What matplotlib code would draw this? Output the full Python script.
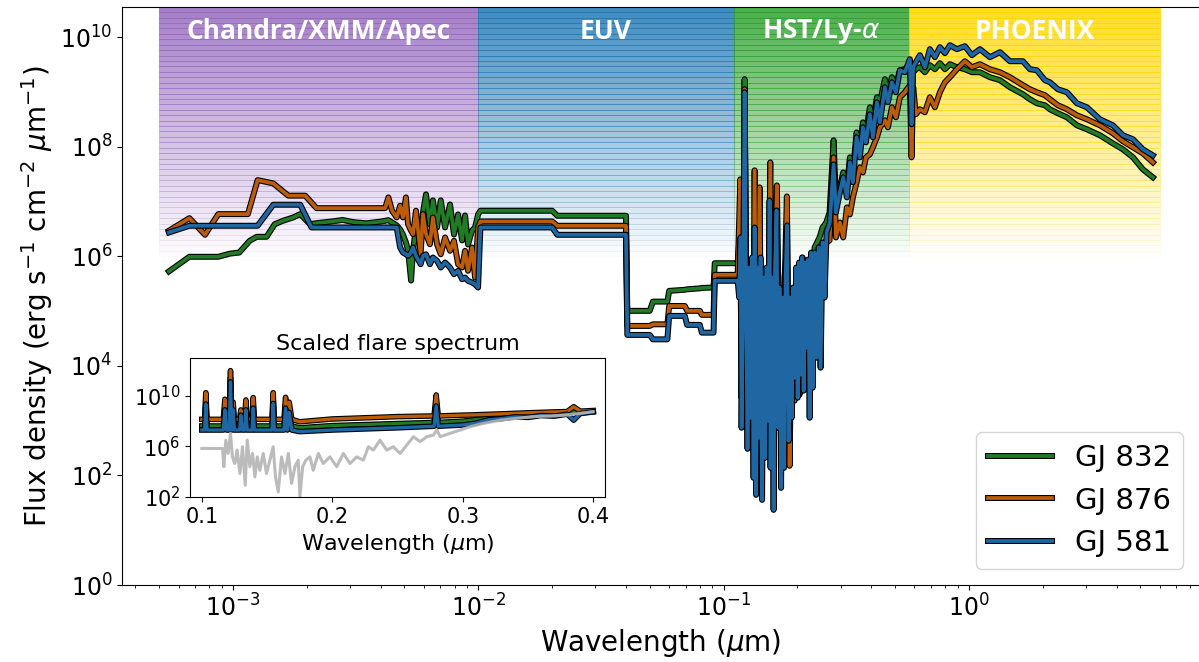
import matplotlib
matplotlib.use('Agg')
import matplotlib.pyplot as plt
import matplotlib.patheffects as pe
from matplotlib.ticker import NullLocator
import numpy as np

# --- spectra of the three stars (wavelength in micron, flux in erg/s/cm2/um) ---

# X-ray part, each star has its own sampling
xray_wl_832 = [5.48e-4, 6.64e-4, 8.71e-4, 9.72e-4, 1.06e-3, 1.17e-3, 1.25e-3, 1.37e-3, 1.48e-3, 1.60e-3,
               1.76e-3, 1.88e-3, 2.06e-3, 2.19e-3, 2.5e-3, 2.8e-3, 3.1e-3, 3.5e-3, 4.0e-3, 4.30e-3]
xray_f_832 = [5.3e5, 9.8e5, 9.8e5, 1.12e6, 1.17e6, 1.92e6, 2.27e6, 2.27e6, 3.86e6, 4.46e6,
              5.12e6, 5.89e6, 3.86e6, 4.03e6, 4.3e6, 4.6e6, 4.2e6, 4.0e6, 4.3e6, 4.57e6]
xray_wl_876 = [5.48e-4, 6.64e-4, 7.69e-4, 8.71e-4, 1.15e-3, 1.26e-3, 1.46e-3, 1.68e-3, 1.97e-3, 2.19e-3,
               4.17e-3, 4.30e-3]
xray_f_876 = [2.93e6, 4.97e6, 2.47e6, 5.89e6, 5.89e6, 2.46e7, 2.14e7, 1.28e7, 1.28e7, 7.57e6,
              7.57e6, 1.19e7]
xray_wl_581 = [5.48e-4, 6.64e-4, 1.26e-3, 1.46e-3, 1.88e-3, 2.09e-3, 4.30e-3]
xray_f_581 = [2.72e6, 3.61e6, 3.61e6, 8.74e6, 8.74e6, 3.36e6, 3.36e6]

# soft X-ray / XUV (XMM) part
xuv_wl = [4.45e-3, 4.65e-3, 4.80e-3, 4.93e-3, 5.07e-3, 5.17e-3, 5.32e-3, 5.42e-3, 5.57e-3, 5.82e-3,
          5.95e-3, 6.12e-3, 6.35e-3, 6.53e-3, 6.79e-3, 7.03e-3, 7.32e-3, 7.67e-3, 7.96e-3, 8.27e-3,
          8.59e-3, 8.83e-3, 9.08e-3, 9.43e-3, 9.70e-3, 9.98e-3]
xuv_f_832 = [4.15e6, 3.66e6, 3.09e6, 2.50e6, 1.79e6, 1.28e6, 3.61e5, 1.28e6, 3.36e6, 2.50e6,
             6.32e6, 1.35e7, 3.81e6, 1.05e7, 3.36e6, 1.05e7, 3.36e6, 8.85e6, 2.50e6, 5.81e6,
             1.95e6, 5.57e6, 1.64e6, 2.96e6, 3.36e6, 5.81e6]
xuv_f_876 = [6.79e6, 5.12e6, 8.38e6, 5.12e6, 1.19e7, 3.86e6, 2.93e6, 2.54e6, 6.79e6, 1.09e6,
             5.89e6, 2.54e6, 1.66e6, 5.12e6, 1.66e6, 1.09e6, 2.21e6, 1.26e6, 1.92e6, 7.17e5,
             6.24e5, 1.26e6, 5.43e5, 1.45e6, 4.10e5, 3.36e6]
xuv_f_581 = [3.36e6, 3.36e6, 1.45e6, 1.17e6, 1.09e6, 1.02e6, 1.17e6, 1.45e6, 1.02e6, 7.17e5,
             1.02e6, 1.09e6, 7.17e5, 9.51e5, 8.28e5, 6.24e5, 7.71e5, 6.24e5, 4.71e5, 5.43e5,
             3.81e5, 4.10e5, 3.57e5, 3.32e5, 3.09e5, 2.69e5]

# EUV estimate, binned
euv_wl = [1.02e-2, 2.0e-2, 2.1e-2, 4.0e-2, 4.05e-2, 5.0e-2, 5.15e-2, 5.9e-2, 6.0e-2, 6.95e-2,
          7.1e-2, 8.0e-2, 8.15e-2, 9.1e-2, 9.2e-2, 0.113]
euv_f_832 = [6.79e6, 6.79e6, 5.50e6, 5.50e6, 1.01e5, 1.01e5, 1.49e5, 1.49e5, 2.34e5, 2.45e5,
             2.5e5, 2.6e5, 2.65e5, 2.69e5, 7.48e5, 7.48e5]
euv_f_876 = [4.33e6, 4.33e6, 3.61e6, 3.61e6, 5.36e4, 5.36e4, 5.74e4, 5.74e4, 1.24e5, 1.24e5,
             1.01e5, 1.01e5, 8.53e4, 8.53e4, 4.59e5, 4.59e5]
euv_f_581 = [3.36e6, 3.36e6, 2.47e6, 2.47e6, 3.67e4, 3.67e4, 3.05e4, 3.05e4, 8.17e4, 8.17e4,
             5.60e4, 5.60e4, 4.04e4, 4.04e4, 3.57e5, 3.57e5]

# HST far-UV, emission lines incl. Ly-alpha
fuv_wl = [0.1141, 0.1170, 0.1184, 0.1206, 0.1218, 0.1235, 0.1252, 0.1297, 0.1313, 0.1338,
          0.1363, 0.1402, 0.1429, 0.1446, 0.1469, 0.1516, 0.1550, 0.1589, 0.1614, 0.1649,
          0.1692, 0.1735, 0.1773, 0.1811, 0.1858, 0.1893, 0.1947, 0.1984, 0.2040, 0.2099,
          0.2139, 0.2200, 0.2278, 0.2349, 0.2461, 0.2532, 0.2622, 0.2704]
fuv_f_832 = [7.38e5, 3.36e6, 2.62e3, 4.10e5, 1.71e9, 4.10e5, 1.13e3, 6.24e5, 7.41e2, 2.21e6,
             4.87e2, 9.51e5, 7.41e2, 3.20e2, 2.69e5, 2.62e3, 3.36e6, 2.10e2, 4.10e5, 3.36e6,
             6.08e3, 4.87e2, 4.10e5, 1.45e6, 3.94e2, 1.16e5, 6.08e3, 2.69e5, 2.98e3, 9.51e5,
             1.41e4, 6.24e5, 7.61e4, 1.45e6, 2.21e6, 3.36e6, 4.15e6, 6.32e6]
fuv_f_876 = [4.65e5, 2.54e7, 2.62e3, 2.69e5, 1.12e9, 2.69e5, 1.13e3, 6.24e5, 7.41e2, 3.71e7,
             4.87e2, 1.81e7, 7.41e2, 3.20e2, 1.77e5, 2.62e3, 5.18e7, 2.10e2, 2.69e5, 1.97e7,
             6.08e3, 4.87e2, 2.69e5, 1.24e7, 1.50e2, 7.61e4, 2.31e3, 2.69e5, 4.53e3, 7.71e5,
             9.27e3, 4.10e5, 4.99e4, 6.24e5, 9.51e5, 1.45e6, 1.79e6, 1.95e6]
# GJ 581 has the finer far-UV sampling
fuv_wl_581 = [0.1141, 0.1157, 0.1173, 0.1184, 0.1201, 0.1218, 0.1235, 0.1252, 0.1271, 0.1288,
              0.1307, 0.1325, 0.1338, 0.1357, 0.1376, 0.1395, 0.1415, 0.1435, 0.1456, 0.1476,
              0.1497, 0.1518, 0.1540, 0.1554, 0.1576, 0.1599, 0.1621, 0.1644, 0.1668, 0.1691,
              0.1715, 0.1740, 0.1764, 0.1790, 0.1815, 0.1841, 0.1867, 0.1894, 0.1921, 0.1948,
              0.1976, 0.2004, 0.2032, 0.2061, 0.2090, 0.2120, 0.2150, 0.2181, 0.2212, 0.2243,
              0.2275, 0.2307, 0.2350, 0.2395, 0.2440, 0.2486, 0.2533, 0.2580, 0.2629, 0.2711]
fuv_f_581 = [3.61e5, 1.77e5, 2.21e6, 7.41e2, 2.69e5, 9.88e8, 1.77e5, 3.06e2, 6.24e5, 1.13e3,
             9.51e5, 9.04e1, 3.36e6, 4.42e1, 6.24e5, 4.87e2, 9.51e5, 3.58e1, 4.10e5, 2.10e2,
             6.24e5, 9.96e2, 1.05e7, 1.38e2, 4.10e5, 2.35e1, 6.24e5, 6.88e6, 7.41e2, 2.69e5,
             5.93e1, 1.77e5, 1.38e2, 4.10e5, 3.66e6, 4.29e2, 1.77e5, 1.13e3, 2.69e5, 6.08e3,
             6.24e5, 2.62e3, 7.71e5, 6.90e3, 9.51e5, 3.52e3, 7.71e5, 2.15e4, 8.74e5, 1.13e3,
             1.17e6, 3.99e3, 1.17e6, 1.41e4, 1.45e6, 9.27e3, 1.79e6, 1.77e5, 2.72e6, 4.15e6]

# near-UV to infrared (HST + PHOENIX)
opt_wl = [0.2808, 0.2870, 0.2979, 0.3073, 0.3182, 0.3272, 0.3366, 0.3484, 0.3594, 0.3697,
          0.3803, 0.3948, 0.4061, 0.4217, 0.4337, 0.4546, 0.4675, 0.4854, 0.5040, 0.5233,
          0.5483, 0.5746, 0.5838, 0.5927, 0.6078, 0.6313, 0.6615, 0.6934, 0.7268, 0.7618,
          0.7985, 0.8367, 0.8935, 0.9632, 1.0285, 1.109, 1.218, 1.338, 1.469, 1.660,
          1.773, 1.893, 2.041, 2.139, 2.306, 2.509, 2.756, 3.027, 3.420, 3.864,
          4.245, 4.664, 5.121, 5.625]
opt_f_832 = [1.31e8, 9.63e6, 1.81e7, 3.40e7, 1.81e7, 6.40e7, 3.40e7, 1.83e8, 9.75e7, 2.79e8,
             1.83e8, 5.25e8, 2.79e8, 8.00e8, 6.48e8, 1.71e9, 9.88e8, 1.86e9, 1.33e9, 2.49e9,
             2.60e9, 3.08e9, 8.00e8, 2.29e9, 2.60e9, 2.83e9, 2.29e9, 3.08e9, 2.60e9, 3.35e9,
             2.60e9, 3.21e9, 2.83e9, 2.60e9, 2.29e9, 2.29e9, 1.86e9, 1.64e9, 1.22e9, 9.08e8,
             7.36e8, 6.21e8, 5.71e8, 4.83e8, 4.08e8, 3.45e8, 2.46e8, 2.08e8, 1.62e8, 1.15e8,
             8.96e7, 6.40e7, 3.86e7, 2.76e7]
opt_f_876 = [6.40e7, 2.21e6, 4.15e6, 2.21e6, 7.80e6, 5.81e6, 1.19e7, 2.24e7, 4.20e7, 3.40e7,
             6.40e7, 7.26e7, 9.75e7, 1.49e8, 2.26e8, 3.04e8, 2.26e8, 5.25e8, 3.45e8, 8.00e8,
             9.88e8, 1.33e9, 6.40e7, 1.22e9, 3.91e8, 4.83e8, 4.26e8, 8.00e8, 5.25e8, 9.88e8,
             1.50e9, 1.86e9, 2.60e9, 3.64e9, 2.83e9, 3.21e9, 2.60e9, 2.29e9, 1.86e9, 1.33e9,
             1.12e9, 9.88e8, 8.71e8, 7.36e8, 5.71e8, 4.83e8, 3.75e8, 3.17e8, 2.46e8, 1.76e8,
             1.26e8, 9.75e7, 7.57e7, 5.18e7]
opt_f_581 = [4.77e7, 6.32e6, 1.47e7, 2.76e7, 1.19e7, 5.18e7, 2.24e7, 1.49e8, 6.40e7, 2.26e8,
             1.20e8, 3.91e8, 1.49e8, 6.48e8, 2.79e8, 1.22e9, 6.48e8, 1.50e9, 9.88e8, 2.49e9,
             2.29e9, 3.96e9, 2.57e8, 2.83e9, 3.49e9, 4.69e9, 2.83e9, 6.04e9, 4.31e9, 6.57e9,
             5.10e9, 7.14e9, 6.04e9, 6.84e9, 4.69e9, 6.04e9, 4.31e9, 5.32e9, 3.64e9, 3.64e9,
             2.60e9, 2.49e9, 1.64e9, 1.50e9, 1.12e9, 9.88e8, 6.21e8, 5.25e8, 3.17e8, 2.46e8,
             1.62e8, 1.37e8, 8.96e7, 6.96e7]

# scaled flare spectra for the inset
flare_wl = [0.1000, 0.1022, 0.1031, 0.1040, 0.1165, 0.1177, 0.1190, 0.1210, 0.1220, 0.1230,
            0.1240, 0.1250, 0.1290, 0.1299, 0.1310, 0.1328, 0.1338, 0.1348, 0.1385, 0.1394,
            0.1403, 0.1538, 0.1547, 0.1556, 0.1630, 0.1642, 0.1656, 0.1670, 0.1690, 0.1750,
            0.2000, 0.2500, 0.2780, 0.2796, 0.2812, 0.3000, 0.3100, 0.3200, 0.3300, 0.3400,
            0.3500, 0.3600, 0.3700, 0.3800, 0.3850, 0.3900, 0.4000]
flare_f_832 = [4.2e7, 4.2e7, 6.0e9, 4.2e7, 4.2e7, 2.0e9, 4.2e7, 4.2e7, 3.0e11, 4.2e7,
               1.0e9, 4.2e7, 4.2e7, 2.5e8, 4.2e7, 4.2e7, 1.5e9, 4.2e7, 4.2e7, 2.5e9,
               4.2e7, 4.2e7, 6.0e9, 4.2e7, 4.2e7, 2.5e9, 4.2e7, 1.0e9, 4.2e7, 3.0e7,
               4.5e7, 6.5e7, 8.0e7, 4.0e9, 8.0e7, 1.0e8, 1.3e8, 1.8e8, 2.3e8, 2.6e8,
               2.9e8, 3.2e8, 3.6e8, 4.0e8, 6.0e8, 4.5e8, 5.5e8]
flare_f_876 = [1.4e8, 1.4e8, 1.8e10, 1.4e8, 1.4e8, 5.5e9, 1.4e8, 1.4e8, 1.0e12, 1.4e8,
               3.2e9, 1.4e8, 1.4e8, 7.8e8, 1.4e8, 1.4e8, 4.8e9, 1.4e8, 1.4e8, 7.4e9,
               1.4e8, 1.4e8, 1.8e10, 1.4e8, 1.4e8, 7.8e9, 1.4e8, 3.2e9, 1.4e8, 9.0e7,
               1.5e8, 2.3e8, 2.6e8, 1.2e10, 2.6e8, 3.0e8, 3.2e8, 3.5e8, 3.8e8, 4.2e8,
               4.6e8, 5.0e8, 5.4e8, 5.8e8, 1.4e9, 6.2e8, 7.0e8]
flare_f_581 = [2.0e7, 2.0e7, 2.3e9, 2.0e7, 2.0e7, 8.0e8, 2.0e7, 2.0e7, 1.3e11, 2.0e7,
               8.0e8, 2.0e7, 2.0e7, 3.0e8, 2.0e7, 2.0e7, 8.0e8, 2.0e7, 2.0e7, 1.1e9,
               2.0e7, 2.0e7, 2.5e9, 2.0e7, 2.0e7, 1.1e9, 2.0e7, 5.0e8, 2.0e7, 1.5e7,
               2.0e7, 3.0e7, 4.0e7, 1.6e9, 4.0e7, 5.0e7, 7.0e7, 1.3e8, 1.6e8, 2.2e8,
               2.0e8, 2.8e8, 2.5e8, 3.6e8, 1.2e8, 4.0e8, 5.5e8]

# flare template (grey)
template_wl = [0.1000, 0.1159, 0.1169, 0.1184, 0.1202, 0.1220, 0.1235, 0.1253, 0.1271, 0.1292,
               0.1312, 0.1333, 0.1348, 0.1368, 0.1389, 0.1407, 0.1425, 0.1445, 0.1471, 0.1496,
               0.1522, 0.1547, 0.1565, 0.1586, 0.1611, 0.1637, 0.1663, 0.1688, 0.1714, 0.1739,
               0.1752, 0.1773, 0.1798, 0.1829, 0.1854, 0.1893, 0.1931, 0.1982, 0.2034, 0.2085,
               0.2136, 0.2187, 0.2238, 0.2277, 0.2315, 0.2366, 0.2417, 0.2468, 0.2520, 0.2571,
               0.2622, 0.2673, 0.2724, 0.2775, 0.2801, 0.2827, 0.2903, 0.2980, 0.3057, 0.3159,
               0.3287, 0.3415, 0.3543, 0.3671, 0.3799, 0.3901, 0.3998]
template_f = [7.0e5, 7.0e5, 2.5e4, 3.2e6, 2.8e5, 1.1e7, 1.5e5, 4.5e4, 5.2e5, 7.3e3,
              9.5e5, 8.6e2, 3.2e6, 2.5e4, 2.8e5, 3.9e3, 1.5e5, 1.3e4, 2.8e5, 7.3e3,
              8.3e4, 9.5e5, 3.9e3, 2.5e2, 1.5e5, 7.3e3, 2.8e5, 1.2e3, 2.5e4, 8.3e4,
              1.0e2, 2.5e4, 8.3e4, 1.5e5, 1.3e4, 2.8e5, 4.5e4, 1.5e5, 2.5e4, 2.8e5,
              4.5e4, 1.5e5, 8.3e4, 9.5e5, 5.2e5, 3.2e6, 5.2e5, 9.5e5, 2.8e5, 1.3e6,
              5.9e6, 2.4e6, 5.9e6, 8.0e6, 2.0e7, 5.9e6, 1.1e7, 2.0e7, 3.7e7, 6.7e7,
              1.2e8, 1.7e8, 2.3e8, 2.6e8, 3.1e8, 4.2e8, 5.7e8]

stars = ['GJ 832', 'GJ 876', 'GJ 581']
star_colors = ['#217a24', '#bb5c0b', '#1f67a2']

band_labels = ['Chandra/XMM/Apec', 'EUV', 'HST/Ly-$\\alpha$', 'PHOENIX']
band_edges = [5e-4, 1e-2, 0.11, 0.57, 6.0]
band_colors = ['tab:purple', 'tab:blue', 'tab:green', 'gold']


def outline(lw):
    return [pe.Stroke(linewidth=lw + 1.6, foreground='k'), pe.Normal()]


def main():
    fig = plt.figure(figsize=(11.99, 6.62), dpi=100)
    ax = fig.add_axes([0.1018, 0.1163, 0.8982, 0.8736])
    ax.set_xscale('log')
    ax.set_yscale('log')
    ax.set_xlim(3.53e-4, 8.67)
    ax.set_ylim(1, 3.6e10)

    # fading coloured bands for the data sources
    ylo, yhi = 1e6, 3.6e10
    nstrip = 46
    strips = np.logspace(np.log10(ylo), np.log10(yhi), nstrip + 1)
    for k, c in enumerate(band_colors):
        x0, x1 = band_edges[k], band_edges[k + 1]
        for i in range(nstrip):
            a = 0.85 * (i + 1) / nstrip
            ax.fill_between([x0, x1], strips[i], strips[i + 1], color=c, alpha=a,
                            lw=0.6, zorder=0)
        xc = np.sqrt(x0 * x1)
        ax.text(xc, 1.25e10, band_labels[k], ha='center', va='center', color='white',
                fontsize=19, fontweight='bold', family='Open Sans', zorder=6)

    wl = {
        'GJ 832': xray_wl_832 + xuv_wl + euv_wl + fuv_wl + opt_wl,
        'GJ 876': xray_wl_876 + xuv_wl + euv_wl + fuv_wl + opt_wl,
        'GJ 581': xray_wl_581 + xuv_wl + euv_wl + fuv_wl_581 + opt_wl,
    }
    flux = {
        'GJ 832': xray_f_832 + xuv_f_832 + euv_f_832 + fuv_f_832 + opt_f_832,
        'GJ 876': xray_f_876 + xuv_f_876 + euv_f_876 + fuv_f_876 + opt_f_876,
        'GJ 581': xray_f_581 + xuv_f_581 + euv_f_581 + fuv_f_581 + opt_f_581,
    }
    for s, c in zip(stars, star_colors):
        ax.plot(wl[s], flux[s], color=c, lw=2.7, label=s, zorder=3,
                path_effects=outline(2.7))

    ax.set_yticks([1e0, 1e2, 1e4, 1e6, 1e8, 1e10])
    ax.yaxis.set_minor_locator(NullLocator())
    ax.tick_params(labelsize=17)
    ax.spines['right'].set_visible(False)
    ax.set_xlabel('Wavelength ($\\mu$m)', fontsize=20)
    ax.set_ylabel('Flux density (erg s$^{-1}$ cm$^{-2}$ $\\mu$m$^{-1}$)', fontsize=20)

    leg = ax.legend(loc='lower right', bbox_to_anchor=(0.985, 0.028), borderaxespad=0,
                    fontsize=21, handlelength=2.2)
    leg.set_zorder(10)

    # inset: flare spectra
    ax2 = fig.add_axes([0.1585, 0.2492, 0.3461, 0.21])
    ax2.set_yscale('log')
    flare = {'GJ 832': flare_f_832, 'GJ 876': flare_f_876, 'GJ 581': flare_f_581}
    for s, c in zip(stars, star_colors):
        ax2.plot(flare_wl, flare[s], color=c, lw=2.4, path_effects=outline(2.4))
    ax2.plot(template_wl, template_f, color='#b4b4b4', lw=2.2, alpha=0.9)
    ax2.set_xlim(0.091, 0.409)
    ax2.set_ylim(1e2, 1e13)
    ax2.set_yticks([1e2, 1e6, 1e10])
    ax2.yaxis.set_minor_locator(NullLocator())
    ax2.set_xticks([0.1, 0.2, 0.3, 0.4])
    ax2.tick_params(labelsize=15)
    ax2.set_xlabel('Wavelength ($\\mu$m)', fontsize=16)
    ax2.set_title('Scaled flare spectrum', fontsize=16)

    fig.savefig('out.png', dpi=100)


if __name__ == '__main__':
    main()
